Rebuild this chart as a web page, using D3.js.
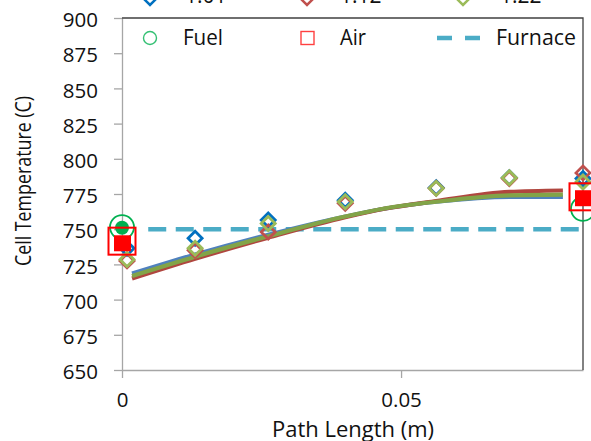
<!DOCTYPE html>
<html><head><meta charset="utf-8">
<script src="https://cdn.jsdelivr.net/npm/d3@7"></script>
<style>body{margin:0;background:#fff}svg{display:block}text{font-family:"Open Sans",sans-serif;fill:#111}</style>
</head><body><svg id="c" width="591" height="441"></svg>
<script>
// ---- data ----
const expX = [0.0009, 0.0131, 0.0262, 0.0400, 0.0563, 0.0694, 0.0826];
const expBlue  = [736.5, 743.5, 756.5, 770.5, 779.5, 786.5, 786];
const expRed   = [727.5, 735, 748, 768.5, 779, 786, 790];
const expGreen = [728.5, 736.5, 754, 769.5, 779, 786.5, 783.5];
const modelX = [0.0018, 0.0131, 0.0262, 0.0400, 0.0470, 0.0563, 0.0694, 0.0790];
const modelBlue  = [718.5, 732, 746, 759, 764.5, 769.5, 773, 773];
const modelRed   = [715, 729, 744, 758.5, 764.5, 770, 776.5, 777.5];
const modelGreen = [716.8, 730.5, 745, 759, 764.7, 769.5, 774, 774.5];
const fuelX = [0, 0.0826];
const fuelModel = [751.5, 764.5];     // hollow circles
const fuelInlet = [751];              // filled circle at inlet
const airX = [0, 0.0826];
const airModel = [741.5, 773];        // hollow squares
const airInlet = [740, 772];          // filled squares
const furnaceX = [0.0047, 0.0826];
const furnaceT = [750, 750];
const yTicks = [650, 675, 700, 725, 750, 775, 800, 825, 850, 875, 900];
const xTicks = [0, 0.05];
const xTickLabels = ["0", "0.05"];
const topLegend = ["1.01", "1.12", "1.22"];
const legendLabels = ["Fuel", "Air", "Furnace"];

// ---- styles ----
const C = {blueM:"#0070C0", redM:"#C0504D", greenM:"#9BBB59",
           blueL:"#4F81BD", redL:"#B0463F", greenL:"#82A448",
           fuel:"#00B050", air:"#FF0000", furnace:"#4BACC6", axis:"#A6A6A6", frame:"#404040"};

const svg = d3.select("#c");
const x = d3.scaleLinear().domain([0, 0.0826]).range([122, 583]);
const y = d3.scaleLinear().domain([650, 900]).range([370, 18]);

// axes
const ya = svg.append("g").attr("transform","translate(122,0)")
  .call(d3.axisLeft(y).tickValues(yTicks).tickSize(8).tickSizeOuter(0).tickPadding(16).tickFormat(d3.format("d")));
const xa = svg.append("g").attr("transform","translate(0,370)")
  .call(d3.axisBottom(x).tickValues(xTicks).tickSize(8).tickSizeOuter(0).tickPadding(14).tickFormat((d,i)=>xTickLabels[i]));
[ya, xa].forEach(g=>{
  g.selectAll("path,line").attr("stroke", C.axis).attr("stroke-width",1.3);
  g.selectAll("text").attr("font-size", 20.5).attr("fill","#111").attr("font-family","Open Sans");
});
ya.selectAll("text").attr("dy","0.42em");

// frame top & right (legend box)
svg.append("path").attr("d", `M${x(0)},${y(900)}H${x(0.0826)}V${y(650)}`)
  .attr("fill","none").attr("stroke", C.frame).attr("stroke-width",1.3);

// titles
svg.append("text").attr("transform","translate(31,181) rotate(-90)").attr("text-anchor","middle")
  .attr("font-size",22).attr("textLength",170).attr("lengthAdjust","spacingAndGlyphs").text("Cell Temperature (C)");
svg.append("text").attr("x",353).attr("y",437).attr("text-anchor","middle")
  .attr("font-size",21.5).attr("textLength",162).attr("lengthAdjust","spacingAndGlyphs").text("Path Length (m)");

// furnace
svg.append("path").datum(furnaceX.map((d,i)=>[d,furnaceT[i]]))
  .attr("d", d3.line().x(d=>x(d[0])).y(d=>y(d[1])))
  .attr("fill","none").attr("stroke",C.furnace).attr("stroke-width",4.5)
  .attr("stroke-dasharray","18,9.5");

// model lines
const line = d3.line().x(d=>x(d[0])).y(d=>y(d[1])).curve(d3.curveMonotoneX);
[[modelBlue,C.blueL],[modelRed,C.redL],[modelGreen,C.greenL]].forEach(([v,c])=>{
  svg.append("path").datum(modelX.map((d,i)=>[d,v[i]])).attr("d",line)
    .attr("fill","none").attr("stroke",c).attr("stroke-width",4.2);
});

// experimental diamonds
const diamond = (s)=>`M0,${-s}L${s},0L0,${s}L${-s},0Z`;
[[expBlue,C.blueM],[expRed,C.redM],[expGreen,C.greenM]].forEach(([v,c])=>{
  svg.append("g").selectAll("path").data(expX.map((d,i)=>[d,v[i]])).join("path")
    .attr("transform",d=>`translate(${x(d[0])},${y(d[1])})`)
    .attr("d",diamond(7)).attr("fill","none").attr("stroke",c).attr("stroke-width",2.8);
});

// fuel & air
svg.append("g").selectAll("circle").data(fuelX.map((d,i)=>[d,fuelModel[i]])).join("circle")
  .attr("cx",d=>x(d[0])).attr("cy",d=>y(d[1])).attr("r",12).attr("fill","none")
  .attr("stroke",C.fuel).attr("stroke-width",1.8);
svg.append("g").selectAll("circle").data(fuelInlet.map((d,i)=>[fuelX[i],d])).join("circle")
  .attr("cx",d=>x(d[0])).attr("cy",d=>y(d[1])).attr("r",7).attr("fill",C.fuel);
svg.append("g").selectAll("rect").data(airX.map((d,i)=>[d,airModel[i]])).join("rect")
  .attr("x",d=>x(d[0])-13.5).attr("y",d=>y(d[1])-13.5).attr("width",27).attr("height",27)
  .attr("fill","none").attr("stroke",C.air).attr("stroke-width",2);
svg.append("g").selectAll("rect").data(airX.map((d,i)=>[d,airInlet[i]])).join("rect")
  .attr("x",d=>x(d[0])-8).attr("y",d=>y(d[1])-8).attr("width",17).attr("height",16)
  .attr("fill",C.air);

// legend (inside box)
const lg = svg.append("g");
lg.append("circle").attr("cx",150).attr("cy",38).attr("r",6.5).attr("fill","none").attr("stroke",C.fuel).attr("stroke-width",1.4).attr("opacity",0.8);
lg.append("rect").attr("x",301).attr("y",31.5).attr("width",13).attr("height",13).attr("fill","none").attr("stroke",C.air).attr("stroke-width",1.4).attr("opacity",0.75);
lg.append("path").attr("d","M437,38H480").attr("stroke",C.furnace).attr("stroke-width",4.5).attr("stroke-dasharray","15,13");
[[183,40],[340,26],[496,80]].forEach(([px,w],i)=>{
  lg.append("text").attr("x",px).attr("y",44.5).attr("font-size",21)
    .attr("textLength",w).attr("lengthAdjust","spacingAndGlyphs").text(legendLabels[i]);
});

// cut-off legend row above (cropped in the original)
[[150,C.blueM,185],[307,C.redM,340],[463,C.greenM,500]].forEach(([mx,c,tx],i)=>{
  svg.append("path").attr("transform",`translate(${mx},-2)`).attr("d",diamond(7))
    .attr("fill","none").attr("stroke",c).attr("stroke-width",2.5);
  svg.append("text").attr("x",tx).attr("y",3).attr("font-size",21).text(topLegend[i]);
});
</script></body></html>
